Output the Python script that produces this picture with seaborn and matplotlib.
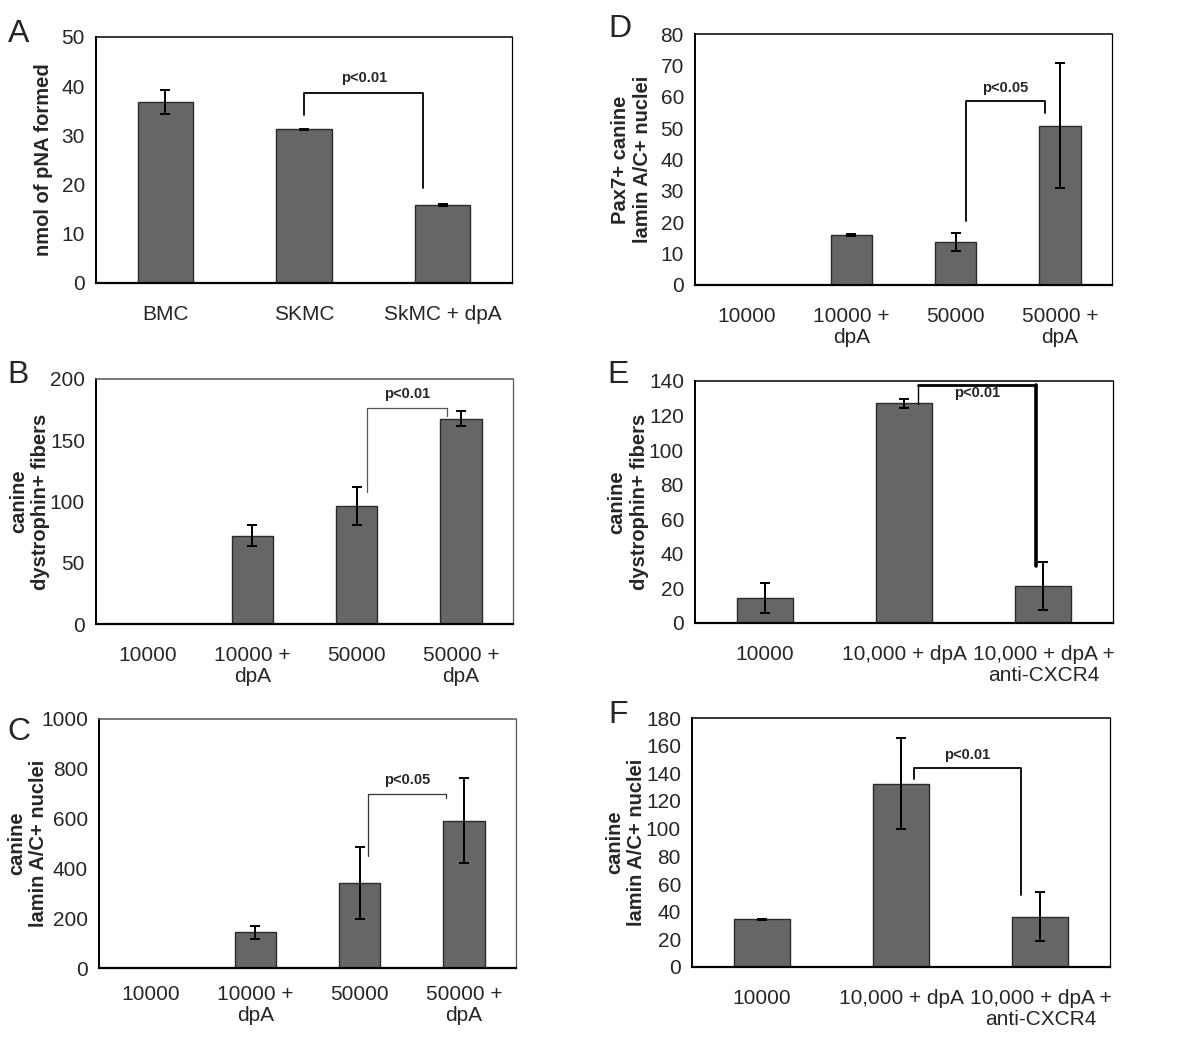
import numpy as np
import matplotlib
matplotlib.use('Agg')
import matplotlib.pyplot as plt
import seaborn as sns

sns.set_style('white')
plt.rcParams['font.family'] = ['Liberation Sans', 'DejaVu Sans']

# panel A
a_cats = ['BMC', 'SKMC', 'SkMC + dpA']
a_vals = [36.8, 31.2, 15.9]
a_errs = [2.5, 0.2, 0.2]

# panel B
b_cats = ['10000', '10000 +\ndpA', '50000', '50000 +\ndpA']
b_vals = [0, 72, 96, 167.5]
b_errs = [0, 8.5, 15.5, 6]

# panel C
c_cats = ['10000', '10000 +\ndpA', '50000', '50000 +\ndpA']
c_vals = [0, 143, 340, 592]
c_errs = [0, 26, 145, 172]

# panel D
d_cats = ['10000', '10000 +\ndpA', '50000', '50000 +\ndpA']
d_vals = [0, 16, 13.7, 50.8]
d_errs = [0, 0.3, 2.8, 20]

# panel E
e_cats = ['10000', '10,000 + dpA', '10,000 + dpA +\nanti-CXCR4']
e_vals = [14.2, 127, 21.5]
e_errs = [8.7, 2.5, 13.8]

# panel F
f_cats = ['10000', '10,000 + dpA', '10,000 + dpA +\nanti-CXCR4']
f_vals = [34.6, 132.4, 36.3]
f_errs = [0.3, 32.8, 17.8]

panels = [
    # letter, cats, vals, errs, ylabel, ymax, ystep, rect, label_x, bracket, letter pos
    ('A', a_cats, a_vals, a_errs, 'nmol of pNA formed', 50, 10,
     [96, 37, 512, 283], -0.127,
     dict(x1=1.0, x2=1.86, y=38.7, y1=34.1, y2=19.3, ty=40.2, text='p<0.01', lw=1.3, color='black'),
     (8, 42)),
    ('B', b_cats, b_vals, b_errs, 'canine\ndystrophin+ fibers', 200, 50,
     [96, 379, 513, 624], -0.16,
     dict(x1=2.1, x2=2.87, y=176, y1=108, y2=170, ty=182, text='p<0.01', lw=0.9, color='#555555'),
     (7, 383)),
    ('C', c_cats, c_vals, c_errs, 'canine\nlamin A/C+ nuclei', 1000, 200,
     [99, 719, 516, 968], -0.172,
     dict(x1=2.08, x2=2.83, y=698, y1=450, y2=681, ty=725, text='p<0.05', lw=0.9, color='#333333'),
     (7, 740)),
    ('D', d_cats, d_vals, d_errs, 'Pax7+ canine\nlamin A/C+ nuclei', 80, 10,
     [695, 34, 1112, 285], -0.153,
     dict(x1=2.1, x2=2.86, y=58.5, y1=20.4, y2=54.8, ty=60.5, text='p<0.05', lw=1.3, color='black'),
     (608, 37)),
    ('E', e_cats, e_vals, e_errs, 'canine\ndystrophin+ fibers', 140, 20,
     [695, 381, 1113, 623], -0.16,
     dict(x1=1.1, x2=1.95, y=137.9, y1=126.7, y2=32.7, ty=129, text='p<0.01', lw=1.8, color='black'),
     (607, 383)),
    ('F', f_cats, f_vals, f_errs, 'canine\nlamin A/C+ nuclei', 180, 20,
     [692, 718, 1110, 967], -0.158,
     dict(x1=1.09, x2=1.86, y=143.5, y1=136, y2=52.2, ty=148, text='p<0.01', lw=1.3, color='black'),
     (608, 723)),
]

W, H = 1200, 1051
fig = plt.figure(figsize=(W / 100, H / 100), dpi=100)

for letter, cats, vals, errs, ylab, ymax, ystep, rect, lab_x, br, lpos in panels:
    x0, y0, x1, y1 = rect
    ax = fig.add_axes([x0 / W, 1 - y1 / H, (x1 - x0) / W, (y1 - y0) / H])
    n = len(cats)
    sns.barplot(x=cats, y=vals, color='#666666', edgecolor='#2a2a2a', linewidth=1.0,
                width=0.4, saturation=1, ax=ax)
    ax.errorbar(range(n), vals, yerr=errs, fmt='none', ecolor='black', elinewidth=1.4,
                capsize=3.5, capthick=1.4)

    ax.set_xlim(-0.5, n - 0.5)
    ax.set_ylim(0, ymax)
    yt = np.arange(0, ymax + ystep / 2, ystep)
    ax.set_yticks(yt)
    ax.set_yticklabels([str(int(v)) for v in yt], fontsize=15)
    ax.set_xticks(range(n))
    ax.set_xticklabels(cats, fontsize=15, linespacing=1.15)
    ax.set_xticks(np.arange(-0.5, n, 1.0), minor=True)
    ax.tick_params(axis='x', which='major', length=0, pad=16 if letter != 'C' else 12)
    ax.tick_params(axis='x', which='minor', length=6, width=1.2, direction='out', color='black')
    ax.tick_params(axis='y', length=5, width=1.2, direction='out', pad=3, color='black')
    ax.set_xlabel('')

    for side in ['left', 'bottom', 'top', 'right']:
        ax.spines[side].set_visible(True)
        ax.spines[side].set_color('black')
    ax.spines['left'].set_linewidth(1.4)
    ax.spines['bottom'].set_linewidth(1.6)
    ax.spines['top'].set_linewidth(1.1)
    ax.spines['right'].set_linewidth(0.9)
    if letter in ('B', 'C'):
        ax.spines['top'].set_color('#555555')
        ax.spines['right'].set_color('#555555')

    ax.set_ylabel(ylab, fontsize=14.5, fontweight='bold', linespacing=1.2, va='center')
    ax.yaxis.set_label_coords(lab_x, 0.5)

    # significance bracket
    if letter == 'E':
        ax.plot([br['x1'], br['x1']], [br['y1'], br['y']], color='black', lw=1.0)
        ax.plot([br['x1'], br['x2']], [br['y'], br['y']], color='black', lw=2.0)
        ax.plot([br['x2'], br['x2']], [br['y'], br['y2']], color='black', lw=2.6)
    else:
        ax.plot([br['x1'], br['x1'], br['x2'], br['x2']], [br['y1'], br['y'], br['y'], br['y2']],
                color=br['color'], lw=br['lw'])
    ax.text((br['x1'] + br['x2']) / 2, br['ty'], br['text'], ha='center', va='bottom',
            fontsize=10.5, fontweight='bold')

    fig.text(lpos[0] / W, 1 - lpos[1] / H, letter, fontsize=23, ha='left', va='baseline')

fig.savefig('out.png', dpi=100, facecolor='white')
